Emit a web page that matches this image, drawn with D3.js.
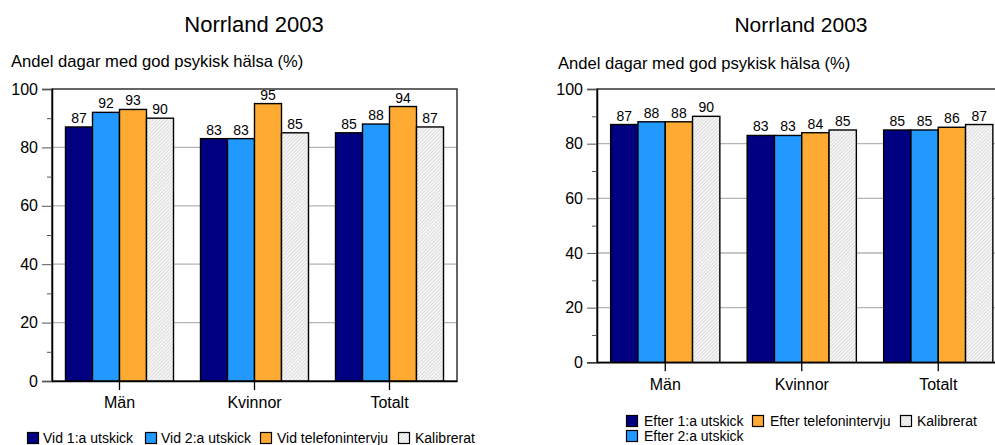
<!DOCTYPE html>
<html><head><meta charset="utf-8">
<script src="https://cdn.jsdelivr.net/npm/d3@7"></script>
<style>
html,body{margin:0;padding:0;background:#fff;overflow:hidden}
text{font-family:"Liberation Sans",Arial,Helvetica,sans-serif;fill:#000}
</style></head>
<body>
<svg id="c" width="995" height="445"></svg>
<script>
// ---- data ----
const categories = ["Män", "Kvinnor", "Totalt"];
const yTicks = [0, 20, 40, 60, 80, 100];
const yMinorTicks = [10, 30, 50, 70, 90];
const chartTitle = "Norrland 2003";
const yTitle = "Andel dagar med god psykisk hälsa (%)";

const leftSeriesNames = ["Vid 1:a utskick", "Vid 2:a utskick", "Vid telefonintervju", "Kalibrerat"];
const leftVid1 = [87, 83, 85];
const leftVid2 = [92, 83, 88];
const leftVidTel = [93, 95, 94];
const leftKalibrerat = [90, 85, 87];

const rightSeriesNames = ["Efter 1:a utskick", "Efter 2:a utskick", "Efter telefonintervju", "Kalibrerat"];
const rightEfter1 = [87, 83, 85];
const rightEfter2 = [88, 83, 85];
const rightEfterTel = [88, 84, 86];
const rightKalibrerat = [90, 85, 87];

const seriesFills = ["#000080", "#2299FF", "#FFAA33", "url(#hatch)"];

// ---- drawing ----
const svg = d3.select("#c");
const defs = svg.append("defs");
const pat = defs.append("pattern").attr("id", "hatch").attr("patternUnits", "userSpaceOnUse")
  .attr("width", 2.5).attr("height", 2.5).attr("patternTransform", "rotate(45)");
pat.append("rect").attr("width", 2.5).attr("height", 2.5).attr("fill", "#f6f6f6");
pat.append("line").attr("x1", 0).attr("y1", 0).attr("x2", 0).attr("y2", 2.5)
  .attr("stroke", "#c4c4c4").attr("stroke-width", 1);

function drawChart(cfg) {
  const g = svg.append("g");
  const x = d3.scaleBand().domain(categories).range([cfg.x0, cfg.x1]).paddingInner(0.2).paddingOuter(0.1);
  const xs = d3.scaleBand().domain(d3.range(cfg.series.length)).range([0, x.bandwidth()]).padding(0);
  const y = d3.scaleLinear().domain([0, 100]).range([cfg.y0, cfg.y1]);

  // title
  g.append("text").attr("x", cfg.titleX).attr("y", 31.5).attr("text-anchor", "middle")
    .style("font-size", cfg.titleSize + "px").text(chartTitle);
  g.append("text").attr("x", cfg.yTitleX).attr("y", cfg.yTitleY)
    .style("font-size", "16.6px").text(yTitle);

  // gridlines
  g.append("g").selectAll("line").data(yTicks.filter(t => t > 0 && t < 100)).join("line")
    .attr("x1", cfg.x0).attr("x2", cfg.x1).attr("y1", d => y(d)).attr("y2", d => y(d))
    .attr("stroke", "#b4b4b4").attr("stroke-width", 1.3);

  // frame (top/right)
  g.append("rect").attr("x", cfg.x0).attr("y", cfg.y1).attr("width", cfg.x1 - cfg.x0).attr("height", cfg.y0 - cfg.y1)
    .attr("fill", "none").attr("stroke", "#333").attr("stroke-width", 1.5);

  // bars
  cfg.series.forEach((vals, si) => {
    const sg = g.append("g");
    sg.selectAll("rect").data(vals).join("rect")
      .attr("x", (d, i) => x(categories[i]) + xs(si))
      .attr("y", d => y(d))
      .attr("width", xs.bandwidth())
      .attr("height", d => cfg.y0 - y(d))
      .attr("fill", seriesFills[si]).attr("stroke", "#000").attr("stroke-width", 1.4);
    sg.selectAll("text").data(vals).join("text")
      .attr("x", (d, i) => x(categories[i]) + xs(si) + xs.bandwidth() / 2)
      .attr("y", d => y(d) - 4)
      .attr("text-anchor", "middle").style("font-size", "14px").text(d => d);
  });

  // y axis
  const yAxis = d3.axisLeft(y).tickValues(yTicks).tickSize(10).tickPadding(4).tickFormat(d3.format("d"));
  const ya = g.append("g").attr("transform", `translate(${cfg.x0},0)`).call(yAxis);
  ya.select(".domain").attr("stroke", "#000").attr("stroke-width", 1.5);
  ya.selectAll(".tick line").attr("stroke", "#555").attr("stroke-width", 1);
  ya.selectAll(".tick text").style("font-size", "16px").attr("font-family", null);
  const yMinor = d3.axisLeft(y).tickValues(yMinorTicks).tickSize(5).tickFormat("");
  const ym = g.append("g").attr("transform", `translate(${cfg.x0},0)`).call(yMinor);
  ym.select(".domain").remove();
  ym.selectAll(".tick line").attr("stroke", "#555");

  // x axis
  const xAxis = d3.axisBottom(x).tickSize(9).tickPadding(7).tickSizeOuter(0);
  const xa = g.append("g").attr("transform", `translate(0,${cfg.y0})`).call(xAxis);
  xa.select(".domain").attr("stroke", "#000").attr("stroke-width", 1.5);
  xa.selectAll(".tick line").attr("stroke", "#000").attr("stroke-width", 1.3);
  xa.selectAll(".tick text").style("font-size", "16px").attr("font-family", null);

  // legend
  const lg = g.append("g");
  cfg.legend.forEach((it, i) => {
    const li = lg.append("g").attr("transform", `translate(${it[0]},${it[1]})`);
    li.append("rect").attr("x", 0.5).attr("y", -10.5).attr("width", 11).attr("height", 11)
      .attr("fill", seriesFills[i]).attr("stroke", "#000").attr("stroke-width", 1.2);
    li.append("text").attr("x", it[2]).attr("y", 0).style("font-size", "14px").text(cfg.names[i]);
  });
}

drawChart({
  x0: 52, x1: 457, y0: 381, y1: 89,
  titleX: 254, titleSize: 22, yTitleX: 11, yTitleY: 67,
  series: [leftVid1, leftVid2, leftVidTel, leftKalibrerat],
  names: leftSeriesNames,
  legend: [[27, 443, 16], [145, 443, 16], [260, 443, 17], [398, 443, 17]]
});
drawChart({
  x0: 597, x1: 1006.5, y0: 362.3, y1: 89,
  titleX: 801, titleSize: 21, yTitleX: 558, yTitleY: 68.5,
  series: [rightEfter1, rightEfter2, rightEfterTel, rightKalibrerat],
  names: rightSeriesNames,
  legend: [[626, 426, 18], [626, 441, 18], [752, 426, 18], [900, 426, 17]]
});
</script>
</body></html>
